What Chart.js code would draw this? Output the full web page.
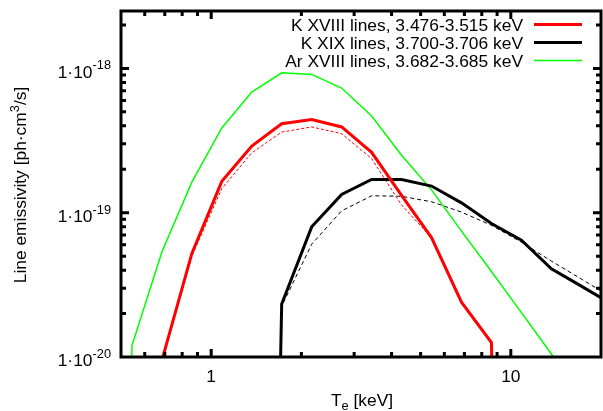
<!DOCTYPE html>
<html lang="en">
<head>
<meta charset="UTF-8">
<title>Line emissivity vs Te</title>
<script src="https://cdn.jsdelivr.net/npm/chart.js"></script>
<style>
    body {
        margin: 0;
        background-color: #ffffff;
    }
    #chart {
        display: block;
    }
</style>
</head>
<body>
<canvas id="chart" width="603" height="411"></canvas>
<script>
    // electron temperature grid in keV (log T = 6.7 ... 8.4 K)
    const temps = [0.432, 0.544, 0.685, 0.862, 1.085, 1.366, 1.719, 2.165, 2.725,
                   3.431, 4.319, 5.437, 6.845, 8.617, 10.85, 13.66, 17.19, 21.65];

    // emissivities in ph cm^3 / s, null = not tabulated, TINY = practically zero
    const TINY = 1e-30;
    const kXVIII = [null, TINY, 9.5e-21, 5.22e-20, 1.65e-19, 2.90e-19, 4.14e-19, 4.43e-19, 3.93e-19,
                    2.62e-19, 1.32e-19, 6.73e-20, 2.40e-20, 1.26e-20, TINY, null, null, null];
    const kXVIIIalt = [null, TINY, 9.3e-21, 5.0e-20, 1.47e-19, 2.60e-19, 3.62e-19, 3.93e-19, 3.53e-19,
                       2.37e-19, 1.13e-19, 6.7e-20, 2.40e-20, 1.26e-20, TINY, null, null, null];
    const kXIX = [null, null, null, null, null, TINY, 2.33e-20, 7.98e-20, 1.34e-19,
                  1.70e-19, 1.70e-19, 1.53e-19, 1.17e-19, 8.41e-20, 6.45e-20, 4.08e-20, 3.10e-20, 2.33e-20];
    const kXIXalt = [null, null, null, null, null, TINY, 2.25e-20, 6.05e-20, 1.03e-19,
                     1.31e-19, 1.30e-19, 1.19e-19, 1.01e-19, 8.18e-20, 6.25e-20, 4.62e-20, 3.47e-20, 2.60e-20];
    const arXVIII = [TINY, 1.20e-20, 5.36e-20, 1.63e-19, 3.87e-19, 6.86e-19, 9.33e-19, 9.09e-19, 7.31e-19,
                     4.68e-19, 2.50e-19, 1.44e-19, 7.45e-20, 3.91e-20, 2.03e-20, 1.05e-20, 5.45e-21, null];

    const legendLabels = ['K XVIII lines, 3.476-3.515 keV', 'K XIX lines, 3.700-3.706 keV', 'Ar XVIII lines, 3.682-3.685 keV'];

    // tick labels
    const xTickValues = [1, 10];
    const xTickLabels = ['1', '10'];
    const yTickExponents = [-20, -19, -18];

    const FONT = "'Liberation Sans', Arial, Helvetica, sans-serif";

    function toPoints(values) {
        return temps.map((t, i) => ({ x: t, y: values[i] })).filter(p => p.y !== null);
    }

    function tickKind(v) {
        const e = Math.floor(Math.log10(v) + 1e-9);
        const m = v / Math.pow(10, e);
        if (Math.abs(m - 1) < 1e-6) return 'major';
        if (Math.abs(m - Math.round(m)) < 1e-6) return 'minor';
        return null;
    }

    // text with a smaller raised/lowered part (superscripts, subscripts)
    function drawRich(ctx, parts, x, y, align) {
        let total = 0;
        parts.forEach(p => {
            ctx.font = p.size + 'px ' + FONT;
            p.w = ctx.measureText(p.text).width;
            total += p.w;
        });
        let cx = align === 'right' ? x - total : align === 'center' ? x - total / 2 : x;
        ctx.textAlign = 'left';
        ctx.textBaseline = 'alphabetic';
        parts.forEach(p => {
            ctx.font = p.size + 'px ' + FONT;
            ctx.fillText(p.text, cx, y + (p.dy || 0));
            cx += p.w;
        });
    }

    const framePlugin = {
        id: 'frame',
        beforeDraw(chart) {
            const ctx = chart.ctx;
            ctx.save();
            ctx.fillStyle = '#ffffff';
            ctx.fillRect(0, 0, chart.width, chart.height);
            ctx.restore();
        },
        afterDatasetsDraw(chart) {
            const { ctx, chartArea: a, scales: { x, y } } = chart;
            ctx.save();
            ctx.strokeStyle = '#000000';
            ctx.fillStyle = '#000000';
            ctx.lineWidth = 3;
            ctx.lineCap = 'butt';

            // inward tick marks on all four sides
            ctx.beginPath();
            x.ticks.forEach(t => {
                const kind = tickKind(t.value);
                const px = x.getPixelForValue(t.value);
                if (!kind || px <= a.left + 2 || px >= a.right - 2) return;
                const len = kind === 'major' ? 8 : 5;
                ctx.moveTo(px, a.bottom); ctx.lineTo(px, a.bottom - len);
                ctx.moveTo(px, a.top); ctx.lineTo(px, a.top + len);
            });
            y.ticks.forEach(t => {
                const kind = tickKind(t.value);
                const py = y.getPixelForValue(t.value);
                if (!kind || py <= a.top + 2 || py >= a.bottom - 2) return;
                const len = kind === 'major' ? 8 : 5;
                ctx.moveTo(a.left, py); ctx.lineTo(a.left + len, py);
                ctx.moveTo(a.right, py); ctx.lineTo(a.right - len, py);
            });
            ctx.stroke();
            ctx.strokeRect(a.left, a.top, a.right - a.left, a.bottom - a.top);

            // x tick labels
            ctx.font = '17.4px ' + FONT;
            ctx.textAlign = 'center';
            ctx.textBaseline = 'alphabetic';
            xTickValues.forEach((v, i) => {
                ctx.fillText(xTickLabels[i], x.getPixelForValue(v), a.bottom + 25);
            });

            // y tick labels 1·10^n
            yTickExponents.forEach(e => {
                const py = y.getPixelForValue(Math.pow(10, e));
                drawRich(ctx, [
                    { text: '1\u00b710', size: 17.4, dy: 9.4 },
                    { text: String(e), size: 12.8, dy: 1 }
                ], 111, py, 'right');
            });

            // axis titles
            drawRich(ctx, [
                { text: 'T', size: 17.4 },
                { text: 'e', size: 12.8, dy: 4 },
                { text: ' [keV]', size: 17.4 }
            ], (a.left + a.right) / 2 + 1, 406, 'center');

            ctx.save();
            ctx.translate(26, (a.top + a.bottom) / 2 + 1);
            ctx.rotate(-Math.PI / 2);
            drawRich(ctx, [
                { text: 'Line emissivity [ph\u00b7cm', size: 17.4 },
                { text: '3', size: 12.8, dy: -7 },
                { text: '/s]', size: 17.4 }
            ], 0, 0, 'center');
            ctx.restore();

            // key, top right
            legendLabels.forEach((label, i) => {
                const ds = chart.data.datasets[i];
                const yb = 30.5 + 18 * i;
                ctx.font = '17.4px ' + FONT;
                ctx.textAlign = 'right';
                ctx.fillStyle = '#000000';
                ctx.fillText(label, 523, yb);
                ctx.beginPath();
                ctx.strokeStyle = ds.borderColor;
                ctx.lineWidth = ds.borderWidth;
                ctx.moveTo(534, yb - 6);
                ctx.lineTo(582, yb - 6);
                ctx.stroke();
            });
            ctx.restore();
        }
    };

    const chart = new Chart(document.getElementById('chart'), {
        type: 'line',
        data: {
            datasets: [
                {
                    label: legendLabels[0],
                    data: toPoints(kXVIII),
                    borderColor: '#ff0000',
                    borderWidth: 3
                },
                {
                    label: legendLabels[1],
                    data: toPoints(kXIX),
                    borderColor: '#000000',
                    borderWidth: 3
                },
                {
                    label: legendLabels[2],
                    data: toPoints(arXVIII),
                    borderColor: '#00ff00',
                    borderWidth: 1.5
                },
                {
                    label: 'K XVIII (alt.)',
                    data: toPoints(kXVIIIalt),
                    borderColor: '#ff0000',
                    borderWidth: 1,
                    borderDash: [3, 2]
                },
                {
                    label: 'K XIX (alt.)',
                    data: toPoints(kXIXalt),
                    borderColor: '#000000',
                    borderWidth: 1,
                    borderDash: [4, 3]
                }
            ]
        },
        options: {
            responsive: false,
            animation: false,
            layout: {
                padding: { left: 121, right: 2, top: 11, bottom: 54 }
            },
            elements: {
                point: { radius: 0 },
                line: { tension: 0, fill: false }
            },
            scales: {
                x: {
                    type: 'logarithmic',
                    min: 0.5,
                    max: 20,
                    grid: { display: false, drawTicks: false },
                    border: { display: false },
                    ticks: { display: false }
                },
                y: {
                    type: 'logarithmic',
                    min: 1e-20,
                    max: 2.5e-18,
                    grid: { display: false, drawTicks: false },
                    border: { display: false },
                    ticks: { display: false }
                }
            },
            plugins: {
                legend: { display: false },
                tooltip: { enabled: false }
            }
        },
        plugins: [framePlugin]
    });
</script>
</body>
</html>
